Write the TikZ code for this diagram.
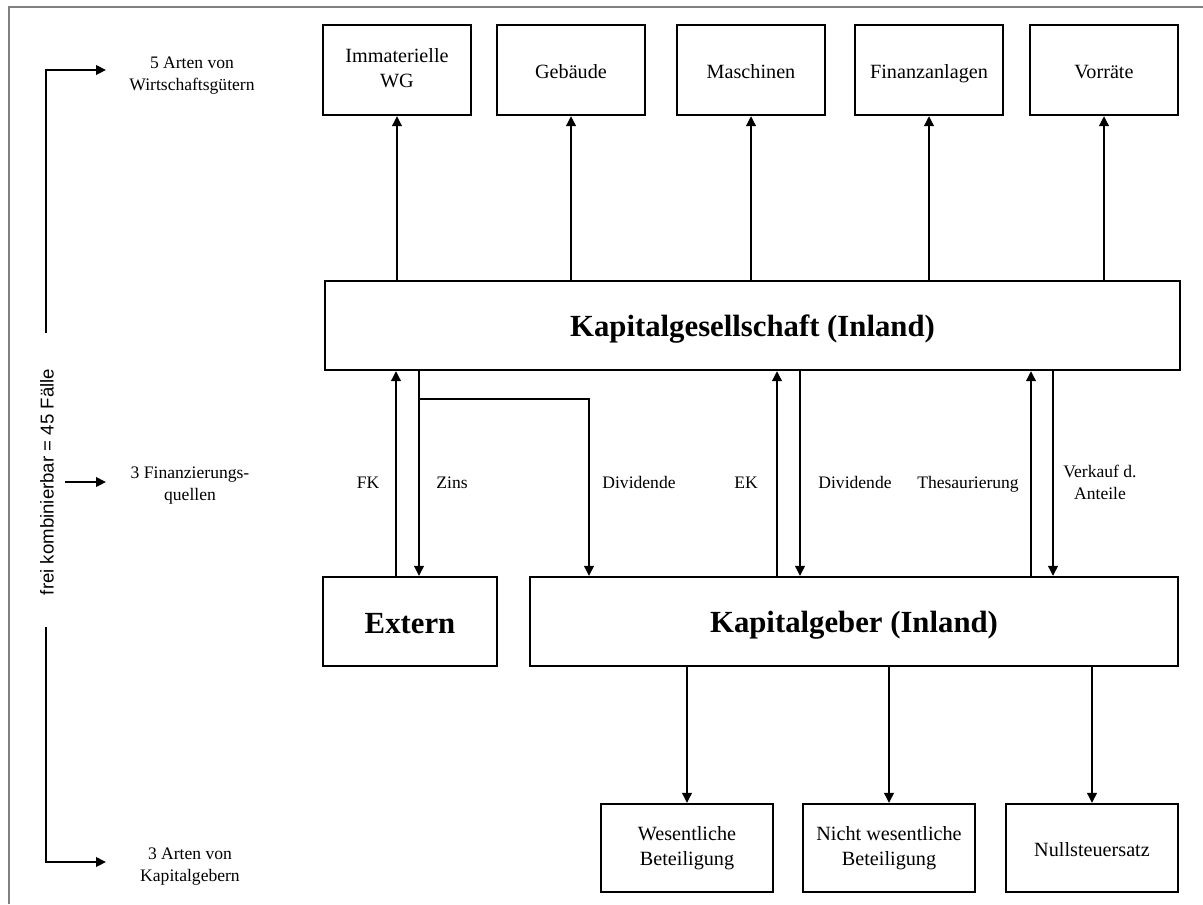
\documentclass[tikz,border=0pt]{standalone}
\usepackage{fontspec}
\setmainfont{Liberation Serif}
\newfontfamily\arialfont{Liberation Sans}
\usetikzlibrary{arrows.meta}
\newcommand{\boxstrutA}{\rule[-2pt]{0pt}{14pt}}
\newcommand{\boxstrutB}{\rule[-2pt]{0pt}{18pt}}
\begin{document}
\begin{tikzpicture}[x=0.02cm,y=-0.02cm,
  box/.style={draw,line width=1.25pt,inner sep=0pt,align=center,font=\fontsize{11.5}{14.2}\selectfont,
    execute at begin node={\boxstrutA}, execute at end node={\boxstrutA}},
  topbox/.style={box,minimum width=2.96cm,minimum height=1.8cm},
  botbox/.style={box,minimum width=3.44cm,minimum height=1.76cm},
  bigbox/.style={draw,line width=1.25pt,inner sep=0pt,align=center,minimum height=1.78cm,font=\fontsize{17.5}{21}\selectfont\bfseries,
    execute at begin node={\boxstrutB}},
  arr/.style={line width=1.25pt,-{Triangle[length=0.2cm,width=0.19cm]}},
  lbl/.style={align=center,inner sep=0pt,font=\fontsize{10}{12.5}\selectfont,
    execute at begin node={\strut}, execute at end node={\strut}},
  frame/.style={draw=gray,line width=1pt}]
\useasboundingbox (0,0) rectangle (1203,904);
\draw[frame] (9,904) -- (9,7) -- (1203,7);

% top row
\node[topbox] (imm) at (397,70) {Immaterielle\\WG};
\node[topbox] (geb) at (571,70) {Gebäude};
\node[topbox] (mas) at (751,70) {Maschinen};
\node[topbox] (fin) at (929,70) {Finanzanlagen};
\node[topbox] (vor) at (1104,70) {Vorräte};

% main
\node[bigbox,minimum width=17.1cm] (kg) at (752.5,325.5) {Kapitalgesellschaft (Inland)};

% middle row
\node[bigbox,minimum width=3.48cm] (ext) at (410,621.5) {Extern};
\node[bigbox,minimum width=12.96cm] (kgb) at (854,621.5) {Kapitalgeber (Inland)};

% bottom row
\node[botbox] (wes) at (687,848) {Wesentliche\\Beteiligung};
\node[botbox] (nwe) at (889,848) {Nicht wesentliche\\Beteiligung};
\node[botbox] (nul) at (1092,848) {Nullsteuersatz};

% arrows up to assets
\foreach \n in {imm,geb,mas,fin,vor}
  \draw[arr] (kg.north -| \n.south) -- (\n.south);

% flows
\coordinate (xFK) at (396,0);
\coordinate (xZ) at (419,0);
\coordinate (xD1) at (589,0);
\coordinate (xEK) at (777,0);
\coordinate (xD2) at (800,0);
\coordinate (xTh) at (1031,0);
\coordinate (xVk) at (1053,0);
\coordinate (split) at (419,399);

\draw[arr] (ext.north -| xFK) -- (kg.south -| xFK);
\draw[arr] (kg.south -| xZ) -- (ext.north -| xZ);
\draw[arr] (split) -- (split -| xD1) -- (kgb.north -| xD1);
\draw[arr] (kgb.north -| xEK) -- (kg.south -| xEK);
\draw[arr] (kg.south -| xD2) -- (kgb.north -| xD2);
\draw[arr] (kgb.north -| xTh) -- (kg.south -| xTh);
\draw[arr] (kg.south -| xVk) -- (kgb.north -| xVk);

\node[lbl] (lFK) at (368,484) {FK};
\node[lbl] (lZ) at (452,484) {Zins};
\node[lbl] (lD1) at (639,484) {Dividende};
\node[lbl] (lEK) at (746,484) {EK};
\node[lbl] (lD2) at (855,484) {Dividende};
\node[lbl] (lTh) at (968,484) {Thesaurierung};
\node[lbl] (lVk) at (1100,486) {Verkauf d.\\Anteile};

% to bottom boxes
\foreach \n in {wes,nwe,nul}
  \draw[arr] (kgb.south -| \n.north) -- (\n.north);

% left side
\node[lbl] (l1) at (192,77) {5 Arten von\\Wirtschaftsgütern};
\node[lbl] (l2) at (190,487) {3 Finanzierungs-\\quellen};
\node[lbl] (l3) at (190,868) {3 Arten von\\Kapitalgebern};
\node[rotate=90,inner sep=0pt,font=\arialfont\fontsize{10.6}{12}\selectfont] (frei) at (47,482) {frei kombinierbar = 45 Fälle};

\coordinate (t1) at (46,333);
\coordinate (a1) at (106,70);
\coordinate (s2) at (65,482);
\coordinate (a2) at (106,482);
\coordinate (t3) at (46,627);
\coordinate (a3) at (106,862);
\draw[arr] (t1) -- (t1 |- a1) -- (a1);
\draw[arr] (s2) -- (a2);
\draw[arr] (t3) -- (t3 |- a3) -- (a3);
\end{tikzpicture}
\end{document}
